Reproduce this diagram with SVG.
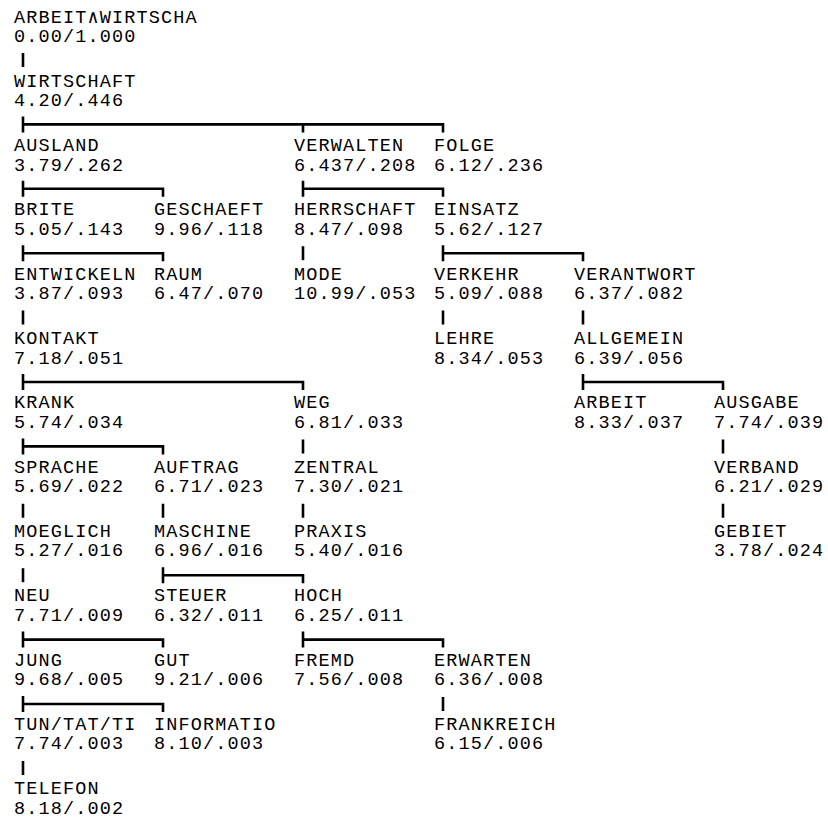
<svg xmlns="http://www.w3.org/2000/svg" width="828" height="820" viewBox="0 0 828 820">
<style>
text{font-family:"Liberation Mono","DejaVu Sans Mono",monospace;font-size:18.5px;letter-spacing:1.15px;fill:#000}
#connectors path{fill:none;stroke:#000;stroke-width:2.6;stroke-linecap:butt}
</style>
<rect width="828" height="820" fill="#fff"/>
<g id="connectors">
<path d="M23,53V67"/>
<path d="M23,116.4V132.4M23,124.4H443V132.4M303,124.4V132.4"/>
<path d="M23,180.8V196.8M23,188.8H163V196.8"/>
<path d="M303,180.8V196.8M303,188.8H443V196.8"/>
<path d="M23,245.2V261.2M23,253.2H163V261.2"/>
<path d="M303,246.2V260.2"/>
<path d="M443,245.2V261.2M443,253.2H583V261.2"/>
<path d="M23,310.6V324.6M443,310.6V324.6M583,310.6V324.6"/>
<path d="M23,374V390M23,382H303V390"/>
<path d="M583,374V390M583,382H723V390"/>
<path d="M23,438.4V454.4M23,446.4H163V454.4"/>
<path d="M303,439.4V453.4M723,439.4V453.4"/>
<path d="M23,503.8V517.8M163,503.8V517.8M303,503.8V517.8M723,503.8V517.8"/>
<path d="M23,568.2V582.2"/>
<path d="M163,567.2V583.2M163,575.2H303V583.2"/>
<path d="M23,631.6V647.6M23,639.6H163V647.6"/>
<path d="M303,631.6V647.6M303,639.6H443V647.6"/>
<path d="M23,696V712M23,704H163V712"/>
<path d="M443,697V711"/>
<path d="M23,761V775"/>
</g>
<g id="n-arbeit-wirtscha"><text x="14" y="22.5">ARBEIT∧WIRTSCHA</text><text x="14" y="42">0.00/1.000</text></g>
<g id="n-wirtschaft"><text x="14" y="86.8">WIRTSCHAFT</text><text x="14" y="106.3">4.20/.446</text></g>
<g id="n-ausland"><text x="14" y="151.1">AUSLAND</text><text x="14" y="170.6">3.79/.262</text></g>
<g id="n-verwalten"><text x="294" y="151.1">VERWALTEN</text><text x="294" y="170.6">6.437/.208</text></g>
<g id="n-folge"><text x="434" y="151.1">FOLGE</text><text x="434" y="170.6">6.12/.236</text></g>
<g id="n-brite"><text x="14" y="215.4">BRITE</text><text x="14" y="234.9">5.05/.143</text></g>
<g id="n-geschaeft"><text x="154" y="215.4">GESCHAEFT</text><text x="154" y="234.9">9.96/.118</text></g>
<g id="n-herrschaft"><text x="294" y="215.4">HERRSCHAFT</text><text x="294" y="234.9">8.47/.098</text></g>
<g id="n-einsatz"><text x="434" y="215.4">EINSATZ</text><text x="434" y="234.9">5.62/.127</text></g>
<g id="n-entwickeln"><text x="14" y="279.7">ENTWICKELN</text><text x="14" y="299.2">3.87/.093</text></g>
<g id="n-raum"><text x="154" y="279.7">RAUM</text><text x="154" y="299.2">6.47/.070</text></g>
<g id="n-mode"><text x="294" y="279.7">MODE</text><text x="294" y="299.2">10.99/.053</text></g>
<g id="n-verkehr"><text x="434" y="279.7">VERKEHR</text><text x="434" y="299.2">5.09/.088</text></g>
<g id="n-verantwort"><text x="574" y="279.7">VERANTWORT</text><text x="574" y="299.2">6.37/.082</text></g>
<g id="n-kontakt"><text x="14" y="344">KONTAKT</text><text x="14" y="363.5">7.18/.051</text></g>
<g id="n-lehre"><text x="434" y="344">LEHRE</text><text x="434" y="363.5">8.34/.053</text></g>
<g id="n-allgemein"><text x="574" y="344">ALLGEMEIN</text><text x="574" y="363.5">6.39/.056</text></g>
<g id="n-krank"><text x="14" y="408.3">KRANK</text><text x="14" y="427.8">5.74/.034</text></g>
<g id="n-weg"><text x="294" y="408.3">WEG</text><text x="294" y="427.8">6.81/.033</text></g>
<g id="n-arbeit"><text x="574" y="408.3">ARBEIT</text><text x="574" y="427.8">8.33/.037</text></g>
<g id="n-ausgabe"><text x="714" y="408.3">AUSGABE</text><text x="714" y="427.8">7.74/.039</text></g>
<g id="n-sprache"><text x="14" y="472.6">SPRACHE</text><text x="14" y="492.1">5.69/.022</text></g>
<g id="n-auftrag"><text x="154" y="472.6">AUFTRAG</text><text x="154" y="492.1">6.71/.023</text></g>
<g id="n-zentral"><text x="294" y="472.6">ZENTRAL</text><text x="294" y="492.1">7.30/.021</text></g>
<g id="n-verband"><text x="714" y="472.6">VERBAND</text><text x="714" y="492.1">6.21/.029</text></g>
<g id="n-moeglich"><text x="14" y="536.9">MOEGLICH</text><text x="14" y="556.4">5.27/.016</text></g>
<g id="n-maschine"><text x="154" y="536.9">MASCHINE</text><text x="154" y="556.4">6.96/.016</text></g>
<g id="n-praxis"><text x="294" y="536.9">PRAXIS</text><text x="294" y="556.4">5.40/.016</text></g>
<g id="n-gebiet"><text x="714" y="536.9">GEBIET</text><text x="714" y="556.4">3.78/.024</text></g>
<g id="n-neu"><text x="14" y="601.2">NEU</text><text x="14" y="620.7">7.71/.009</text></g>
<g id="n-steuer"><text x="154" y="601.2">STEUER</text><text x="154" y="620.7">6.32/.011</text></g>
<g id="n-hoch"><text x="294" y="601.2">HOCH</text><text x="294" y="620.7">6.25/.011</text></g>
<g id="n-jung"><text x="14" y="665.5">JUNG</text><text x="14" y="685">9.68/.005</text></g>
<g id="n-gut"><text x="154" y="665.5">GUT</text><text x="154" y="685">9.21/.006</text></g>
<g id="n-fremd"><text x="294" y="665.5">FREMD</text><text x="294" y="685">7.56/.008</text></g>
<g id="n-erwarten"><text x="434" y="665.5">ERWARTEN</text><text x="434" y="685">6.36/.008</text></g>
<g id="n-tun-tat-ti"><text x="14" y="729.8">TUN/TAT/TI</text><text x="14" y="749.3">7.74/.003</text></g>
<g id="n-informatio"><text x="154" y="729.8">INFORMATIO</text><text x="154" y="749.3">8.10/.003</text></g>
<g id="n-frankreich"><text x="434" y="729.8">FRANKREICH</text><text x="434" y="749.3">6.15/.006</text></g>
<g id="n-telefon"><text x="14" y="794.1">TELEFON</text><text x="14" y="813.6">8.18/.002</text></g>
</svg>
